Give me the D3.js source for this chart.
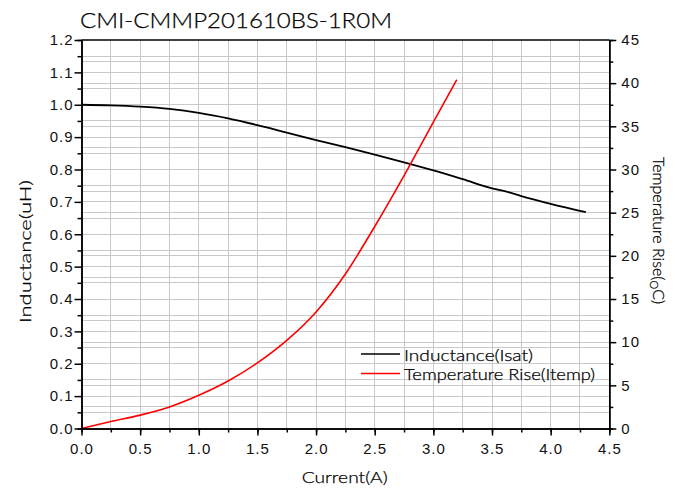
<!DOCTYPE html>
<html>
<head>
<meta charset="utf-8">
<script src="https://cdn.jsdelivr.net/npm/d3@7"></script>
<style>
body { margin: 0; background: #fff; }
.tick text { font-family: "Liberation Sans", Arial, sans-serif; font-size: 15px; letter-spacing: 1px; fill: #111; }
.lbl { font-family: Lato, "DejaVu Sans", sans-serif; font-weight: 300; fill: #000; stroke: #000; stroke-width: 0.25px; }
</style>
</head>
<body>
<div id="chart-area"></div>
<script>
// chart title and axis titles
var title = 'CMI-CMMP201610BS-1R0M';
var xTitle = 'Current(A)';
var yTitle = 'Inductance(uH)';

// inductance curve
var currentL = [0, 0.25, 0.5, 0.75, 1.0, 1.25, 1.5, 1.75, 2.0, 2.25, 2.5, 2.75, 3.0, 3.25, 3.5, 3.6, 3.75, 4.0, 4.3];
var inductance = [1.000, 0.998, 0.994, 0.987, 0.975, 0.958, 0.937, 0.914, 0.891, 0.869, 0.846, 0.822, 0.797, 0.770, 0.742, 0.734, 0.718, 0.694, 0.668];

// temperature rise curve
var currentT = [0, 0.25, 0.5, 0.75, 1.0, 1.25, 1.5, 1.75, 2.0, 2.25, 2.5, 2.75, 3.0, 3.2];
var tempRise = [0, 0.8, 1.55, 2.5, 3.85, 5.5, 7.6, 10.2, 13.5, 17.9, 23.4, 29.3, 35.5, 40.4];

var legendNames = ['Inductance(Isat)', 'Temperature Rise(Itemp)'];

var margin = { top: 40, right: 65.7, bottom: 62.5, left: 81.5 },
    width = 675 - margin.left - margin.right,
    height = 491 - margin.top - margin.bottom;

var root = d3.select('#chart-area').append('svg')
    .attr('width', 675)
    .attr('height', 491);

var svg = root.append('g')
    .attr('transform', 'translate(' + margin.left + ',' + margin.top + ')');

//scales
var x = d3.scaleLinear().domain([0, 4.5]).range([0, width]);
var yL = d3.scaleLinear().domain([0, 1.2]).range([height, 0]);
var yR = d3.scaleLinear().domain([0, 45]).range([height, 0]);

//grid
var grid = svg.append('g')
    .attr('stroke', '#c9c9c9')
    .attr('stroke-width', 1)
    .attr('shape-rendering', 'crispEdges');

grid.selectAll('.vg').data(d3.range(1, 18).map(function(i){ return i * 0.25; }))
  .enter().append('line')
    .attr('x1', function(d){ return x(d); })
    .attr('x2', function(d){ return x(d); })
    .attr('y1', 0).attr('y2', height);

grid.selectAll('.hl').data(d3.range(1, 24).map(function(i){ return i * 0.05; }))
  .enter().append('line')
    .attr('x1', 0).attr('x2', width)
    .attr('y1', function(d){ return yL(d); })
    .attr('y2', function(d){ return yL(d); });

grid.selectAll('.hr').data(d3.range(1, 18).map(function(i){ return i * 2.5; }))
  .enter().append('line')
    .attr('x1', 0).attr('x2', width)
    .attr('y1', function(d){ return yR(d); })
    .attr('y2', function(d){ return yR(d); });

//curves
var lineL = d3.line()
    .x(function(d, i){ return x(currentL[i]); })
    .y(function(d){ return yL(d); })
    .curve(d3.curveMonotoneX);

var lineT = d3.line()
    .x(function(d, i){ return x(currentT[i]); })
    .y(function(d){ return yR(d); })
    .curve(d3.curveMonotoneX);

svg.append('path')
    .datum(inductance)
    .attr('d', lineL)
    .attr('fill', 'none')
    .attr('stroke', '#000')
    .attr('stroke-width', 1.8);

svg.append('path')
    .datum(tempRise)
    .attr('d', lineT)
    .attr('fill', 'none')
    .attr('stroke', '#ff0000')
    .attr('stroke-width', 1.6);

//axes - minor ticks first, then major with labels
function styleAxis(g){
  g.select('.domain').attr('stroke', '#000').attr('stroke-width', 1.5);
  g.selectAll('.tick line').attr('stroke', '#000').attr('stroke-width', 1.5);
}

svg.append('g')
    .attr('transform', 'translate(0,' + height + ')')
    .call(d3.axisBottom(x).tickValues(d3.range(0, 18).map(function(i){ return i * 0.25 + 0.25; })).tickSize(4).tickFormat(''))
    .call(styleAxis);
svg.append('g')
    .attr('transform', 'translate(0,' + height + ')')
    .call(d3.axisBottom(x).tickValues(d3.range(0, 10).map(function(i){ return i * 0.5; })).tickSize(7).tickSizeOuter(0).tickPadding(8).tickFormat(d3.format('.1f')))
    .call(styleAxis);

svg.append('g')
    .call(d3.axisLeft(yL).tickValues(d3.range(0, 12).map(function(i){ return i * 0.1 + 0.05; })).tickSize(4).tickFormat(''))
    .call(styleAxis);
svg.append('g')
    .call(d3.axisLeft(yL).tickValues(d3.range(0, 13).map(function(i){ return i * 0.1; })).tickSize(7).tickSizeOuter(0).tickPadding(1).tickFormat(d3.format('.1f')))
    .call(styleAxis);

svg.append('g')
    .attr('transform', 'translate(' + width + ',0)')
    .call(d3.axisRight(yR).tickValues(d3.range(0, 9).map(function(i){ return i * 5 + 2.5; })).tickSize(4).tickFormat(''))
    .call(styleAxis);
svg.append('g')
    .attr('transform', 'translate(' + width + ',0)')
    .call(d3.axisRight(yR).tickValues(d3.range(0, 10).map(function(i){ return i * 5; })).tickSize(7).tickSizeOuter(0).tickPadding(5).tickFormat(d3.format('d')))
    .call(styleAxis);

//top border
svg.append('line')
    .attr('x1', 0).attr('x2', width)
    .attr('y1', 0).attr('y2', 0)
    .attr('stroke', '#000').attr('stroke-width', 1.5);

//title
root.append('text')
    .attr('class', 'lbl')
    .attr('x', 80)
    .attr('y', 27.5)
    .attr('font-size', '21px')
    .attr('textLength', 312)
    .attr('lengthAdjust', 'spacingAndGlyphs')
    .text(title);

//x label
root.append('text')
    .attr('class', 'lbl')
    .attr('x', 301.7)
    .attr('y', 483)
    .attr('font-size', '16px')
    .attr('textLength', 86)
    .attr('lengthAdjust', 'spacingAndGlyphs')
    .text(xTitle);

//left y label
root.append('text')
    .attr('class', 'lbl')
    .attr('transform', 'translate(31,323) rotate(-90)')
    .attr('font-size', '16px')
    .attr('textLength', 143)
    .attr('lengthAdjust', 'spacingAndGlyphs')
    .text(yTitle);

//right y label
var rl = root.append('text')
    .attr('class', 'lbl')
    .attr('transform', 'translate(653,157) rotate(90)')
    .attr('font-size', '16px');
rl.append('tspan').text('Temperature Rise(');
rl.append('tspan').attr('font-size', '11px').attr('dy', 3).text('O');
rl.append('tspan').attr('dy', -3).text('C)');

//legend
var legend = root.append('g');
var legendColors = ['#000', '#ff0000'];
var legendWidths = [129, 191];
legendNames.forEach(function(name, i){
  legend.append('line')
    .attr('x1', 361).attr('x2', 400)
    .attr('y1', 354 + i * 19.5).attr('y2', 354 + i * 19.5)
    .attr('stroke', legendColors[i]).attr('stroke-width', 1.6);
  legend.append('text')
    .attr('class', 'lbl')
    .attr('x', 404)
    .attr('y', 360.5 + i * 19.5)
    .attr('font-size', '15px')
    .attr('textLength', legendWidths[i])
    .attr('lengthAdjust', 'spacingAndGlyphs')
    .text(name);
});
</script>
</body>
</html>
